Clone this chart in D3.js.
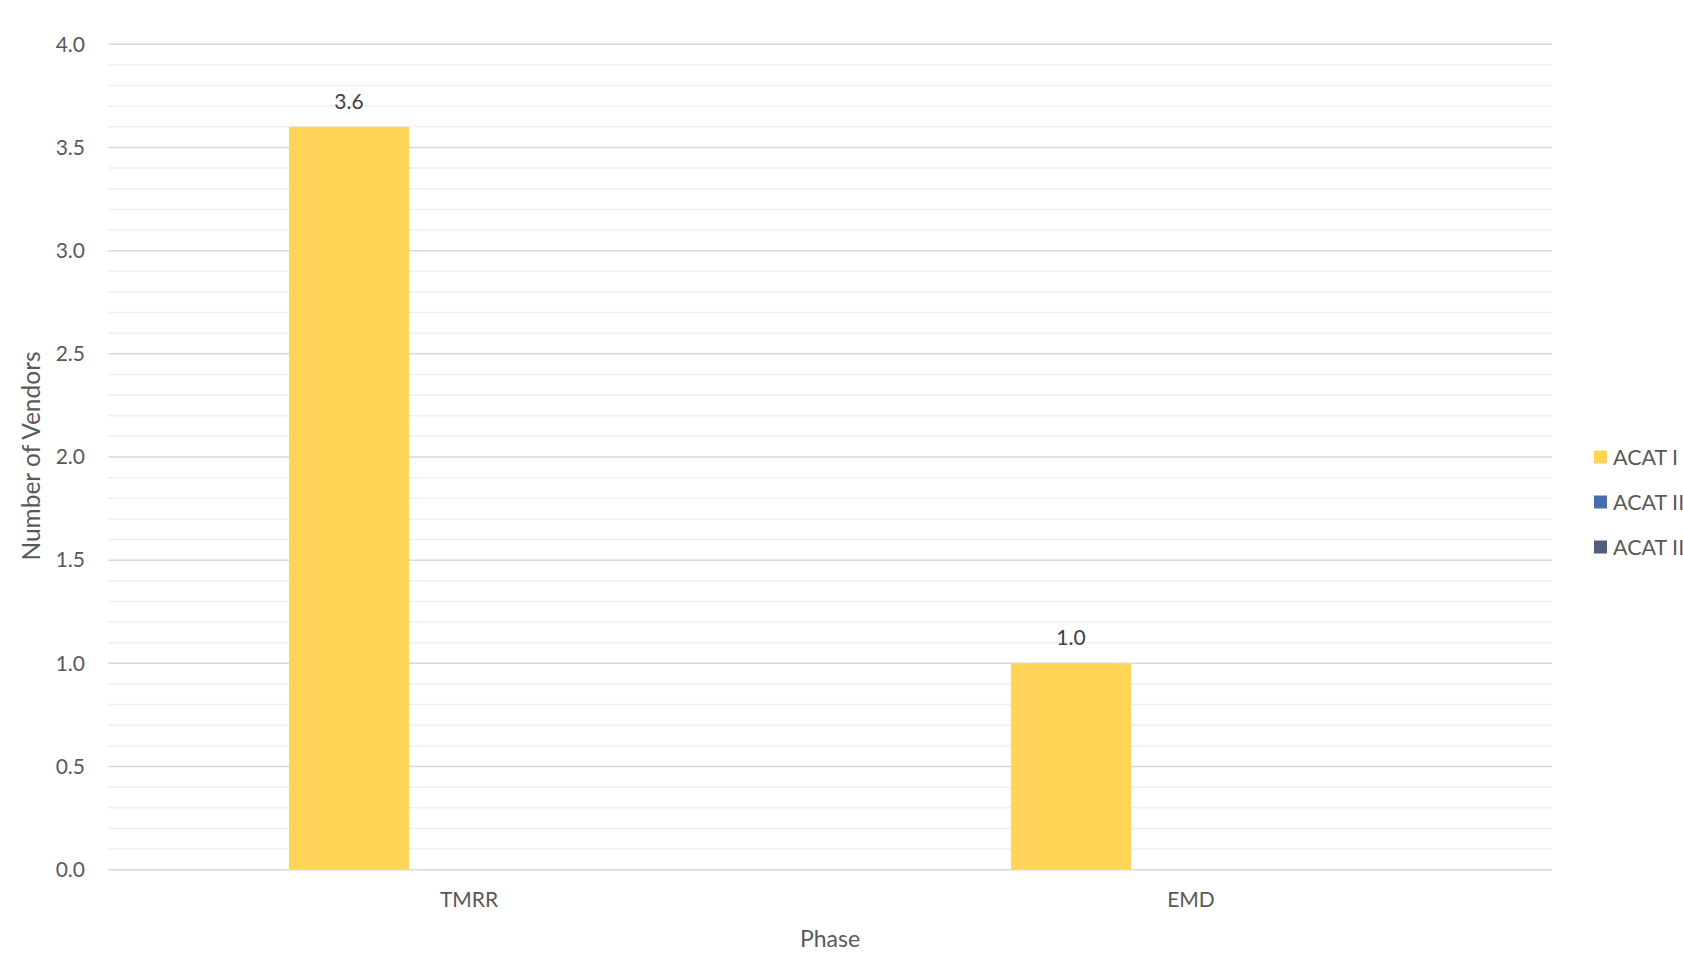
<!DOCTYPE html>
<html>
<head>
<meta charset="utf-8">
<script src="https://cdn.jsdelivr.net/npm/d3@7"></script>
<style>
  html, body { margin: 0; padding: 0; background: #fff; overflow: hidden; }
  svg { display: block; font-family: Lato, "Open Sans", sans-serif; }
</style>
</head>
<body>
<svg id="chart" width="1683" height="954"></svg>
<script>
const categories = ["TMRR", "EMD"];
const seriesNames = ["ACAT I", "ACAT II", "ACAT III"];
const acat1 = [3.6, 1.0];
const acat2 = [0, 0];
const acat3 = [0, 0];
const yTicks = [0, 0.5, 1.0, 1.5, 2.0, 2.5, 3.0, 3.5, 4.0];
const colors = ["#FFD457", "#4A6DAE", "#4F5F7C"];

const seriesValues = [acat1, acat2, acat3];

const svg = d3.select("#chart");
const plotLeft = 108, plotRight = 1552, plotTop = 44.3, plotBottom = 869.7;

const x0 = d3.scaleBand().domain(categories).range([plotLeft, plotRight]).paddingInner(0).paddingOuter(0);
const x1 = d3.scaleBand().domain(seriesNames).range([0, x0.bandwidth()]).paddingOuter(1.508).paddingInner(0);
const y = d3.scaleLinear().domain([0, 4]).range([plotBottom, plotTop]);

// minor gridlines
const minor = d3.range(0, 41).map(d => d / 10).filter(d => Math.abs(d * 2 - Math.round(d * 2)) > 1e-6);
svg.append("g").selectAll("line").data(minor).join("line")
  .attr("x1", plotLeft).attr("x2", plotRight)
  .attr("y1", d => y(d)).attr("y2", d => y(d))
  .attr("stroke", "#efefef").attr("stroke-width", 1.5);

// major gridlines
svg.append("g").selectAll("line").data(yTicks).join("line")
  .attr("x1", plotLeft).attr("x2", plotRight)
  .attr("y1", d => y(d)).attr("y2", d => y(d))
  .attr("stroke", "#d9d9d9").attr("stroke-width", 1.5);

// y tick labels
const yAxis = d3.axisLeft(y).tickValues(yTicks).tickFormat(d3.format(".1f")).tickSize(0).tickPadding(23);
const yg = svg.append("g").attr("transform", `translate(${plotLeft},0)`).call(yAxis);
yg.select(".domain").remove();
yg.selectAll("text").attr("fill", "#595959").style("font-size", "21px").style("font-family", "Lato, sans-serif");

// bars
const groups = svg.append("g").selectAll("g").data(categories).join("g")
  .attr("transform", d => `translate(${x0(d)},0)`);
groups.selectAll("rect")
  .data((c, i) => seriesNames.map((s, j) => ({ s, v: seriesValues[j][i], j })))
  .join("rect")
  .attr("x", d => x1(d.s))
  .attr("width", x1.bandwidth())
  .attr("y", d => y(d.v))
  .attr("height", d => y(0) - y(d.v))
  .attr("fill", d => colors[d.j]);

// data labels
groups.selectAll("text.lbl")
  .data((c, i) => seriesNames.map((s, j) => ({ s, v: seriesValues[j][i], j })).filter(d => d.v > 0))
  .join("text").attr("class", "lbl")
  .attr("x", d => x1(d.s) + x1.bandwidth() / 2)
  .attr("y", d => y(d.v) - 18)
  .attr("text-anchor", "middle")
  .attr("fill", "#404040")
  .style("font-size", "21px")
  .text(d => d3.format(".1f")(d.v));

// x axis labels
const xAxis = d3.axisBottom(x0).tickSize(0).tickPadding(22);
const xg = svg.append("g").attr("transform", `translate(0,${plotBottom})`).call(xAxis);
xg.select(".domain").remove();
xg.selectAll("text").attr("fill", "#595959").style("font-size", "21px").style("font-family", "Lato, sans-serif");

// axis titles
svg.append("text")
  .attr("x", (plotLeft + plotRight) / 2).attr("y", 947)
  .attr("text-anchor", "middle").attr("fill", "#595959")
  .style("font-size", "23px").text("Phase");

svg.append("text")
  .attr("transform", `translate(40,456) rotate(-90)`)
  .attr("text-anchor", "middle").attr("fill", "#595959")
  .style("font-size", "24.5px").text("Number of Vendors");

// legend
const legend = svg.append("g").selectAll("g").data(seriesNames).join("g")
  .attr("transform", (d, i) => `translate(1594,${457 + i * 45})`);
legend.append("rect").attr("x", 0).attr("y", -6.5).attr("width", 13).attr("height", 13)
  .attr("fill", (d, i) => colors[i]);
legend.append("text").attr("x", 19).attr("y", 7.5)
  .attr("fill", "#595959").style("font-size", "21.5px").text(d => d);
</script>
</body>
</html>
